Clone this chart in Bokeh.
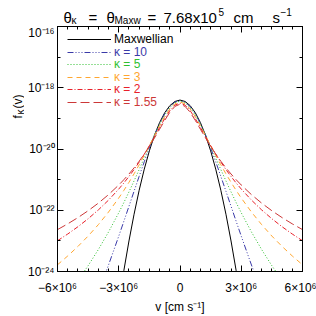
import numpy as np
from bokeh.plotting import figure
from bokeh.layouts import column, row
from bokeh.models import (Range1d, FixedTicker, CustomJSTickFormatter, Label,
                          Legend, LegendItem, LinearAxis, LogAxis)
from bokeh.embed import file_html
from bokeh.resources import INLINE

FONT = "Liberation Sans"

# ---------------- data ----------------
# velocity grid, positive half (cm/s); curves are symmetric in v
v_half = [0.0, 2.5e5, 5.0e5, 7.5e5, 1.0e6, 1.25e6, 1.5e6, 1.75e6, 2.0e6, 2.25e6,
          2.5e6, 2.75e6, 3.0e6, 3.5e6, 4.0e6, 4.5e6, 5.0e6, 5.5e6, 6.0e6]

# log10 of f(v) at the grid points above
log10_f_maxw = [-18.4018, -18.4478, -18.5859, -18.8160, -19.1381, -19.5523, -20.0585,
                -20.6568, -21.3471, -22.1294, -23.0038, -23.9702, -25.0286, -27.4217,
                -30.1828, -33.3121, -36.8096, -40.6752, -44.9090]
log10_f_k10 = [-18.4187, -18.4690, -18.6170, -18.8538, -19.1669, -19.5413, -19.9624,
               -20.4165, -20.8919, -21.3790, -21.8704, -22.3605, -22.8452, -23.7879,
               -24.6852, -25.5326, -26.3300, -27.0797, -27.7849]
log10_f_k5 = [-18.4368, -18.4914, -18.6488, -18.8916, -19.1976, -19.5446, -19.9142,
              -20.2925, -20.6702, -21.0409, -21.4011, -21.7486, -22.0826, -22.7095,
              -23.2841, -23.8114, -24.2968, -24.7454, -25.1616]
log10_f_k3 = [-18.4630, -18.5233, -18.6926, -18.9425, -19.2412, -19.5624, -19.8883,
              -20.2081, -20.5162, -20.8098, -21.0882, -21.3515, -21.6004, -22.0586,
              -22.4703, -22.8429, -23.1822, -23.4933, -23.7802]
log10_f_k2 = [-18.4999, -18.5671, -18.7503, -19.0079, -19.2998, -19.5989, -19.8904,
              -20.1674, -20.4275, -20.6706, -20.8975, -21.1095, -21.3078, -21.6688,
              -21.9897, -22.2777, -22.5385, -22.7766, -22.9955]
log10_f_k155 = [-18.5365, -18.6097, -18.8042, -19.0675, -19.3549, -19.6402, -19.9115,
                -20.1646, -20.3990, -20.6158, -20.8165, -21.0028, -21.1762, -21.4902,
                -21.7678, -22.0161, -22.2403, -22.4446, -22.6321]

series_labels = ["Maxwellian", "κ = 10", "κ = 5", "κ = 3", "κ = 2", "κ = 1.55"]
series_colors = ["#000000", "#3a3aa8", "#2fbf2f", "#ffa630", "#e8202a", "#cc3838"]
series_dashes = ["solid", "6 2 1 2 1 2 1 2", "1 2", "5 4", "5 2 1 2", "9 4"]

x_ticks = [-6e6, -3e6, 0.0, 3e6, 6e6]
x_tick_labels = ["−6×10⁶", "−3×10⁶", "0", "3×10⁶", "6×10⁶"]
y_ticks = [1e-24, 1e-22, 1e-20, 1e-18, 1e-16]
y_tick_labels = ["10⁻²⁴", "10⁻²²", "10⁻²⁰", "10⁻¹⁸", "10⁻¹⁶"]
y_minor_ticks = [1e-23, 1e-21, 1e-19, 1e-17]

# ---------------- build ----------------
vh = np.array(v_half)
v_full = np.concatenate([-vh[:0:-1], vh])


def full(logs):
    a = np.array(logs)
    return 10.0 ** np.concatenate([a[:0:-1], a])


series = [log10_f_maxw, log10_f_k10, log10_f_k5, log10_f_k3, log10_f_k2, log10_f_k155]

W, H = 316, 316
TITLE_H = 25
YLAB_W = 24
FL, FR, FT, FB = 56, 302, 26, 272   # wanted frame edges on the page

p = figure(width=W - YLAB_W, height=H - TITLE_H, output_backend="svg",
           toolbar_location=None,
           x_range=Range1d(-6e6, 6e6), y_range=Range1d(1e-24, 1e-16),
           y_axis_type="log",
           min_border_left=FL - YLAB_W, min_border_right=W - FR,
           min_border_top=FT - TITLE_H, min_border_bottom=H - FB)
p.xgrid.visible = False
p.ygrid.visible = False
p.outline_line_color = "black"
p.background_fill_color = "white"
p.border_fill_color = "white"

x_minor = list(np.arange(-6e6, 6.0001e6, 5e5))
xt = FixedTicker(ticks=x_ticks, minor_ticks=x_minor)
yt = FixedTicker(ticks=y_ticks, minor_ticks=y_minor_ticks)

xfmt = CustomJSTickFormatter(args=dict(tvals=x_ticks, tlabels=x_tick_labels), code="""
for (let i = 0; i < tvals.length; i++) { if (Math.abs(tick - tvals[i]) < 1) return tlabels[i]; }
return "";
""")
yfmt = CustomJSTickFormatter(args=dict(tvals=y_ticks, tlabels=y_tick_labels), code="""
for (let i = 0; i < tvals.length; i++) {
  if (Math.abs(Math.log10(tick) - Math.log10(tvals[i])) < 1e-6) return tlabels[i];
}
return "";
""")
empty = CustomJSTickFormatter(code="return '';")

p.add_layout(LinearAxis(), "above")
p.add_layout(LogAxis(), "right")

for ax in p.xaxis + p.yaxis:
    ax.axis_line_color = "black"
    ax.major_tick_line_color = "black"
    ax.minor_tick_line_color = "black"
    ax.major_tick_in = 6
    ax.major_tick_out = 0
    ax.minor_tick_in = 3
    ax.minor_tick_out = 0
    ax.major_label_text_font = FONT
    ax.major_label_text_font_size = "12px"
    ax.major_label_text_color = "black"

for ax in p.xaxis:
    ax.ticker = xt
for ax in p.yaxis:
    ax.ticker = yt

p.below[0].formatter = xfmt
p.below[0].major_label_standoff = 9
p.below[0].axis_label = "v [cm s⁻¹]"
p.below[0].axis_label_text_font = FONT
p.below[0].axis_label_text_font_size = "12px"
p.below[0].axis_label_text_font_style = "normal"
p.below[0].axis_label_text_color = "black"
p.below[0].axis_label_standoff = 2
p.left[0].formatter = yfmt
p.left[0].major_label_standoff = 3
p.above[0].formatter = empty
p.above[0].major_label_standoff = 0
p.above[0].major_label_text_font_size = "1px"
p.right[0].formatter = empty
p.right[0].major_label_standoff = 0
p.right[0].major_label_text_font_size = "1px"

renderers = []
for logs, col, dash in zip(series, series_colors, series_dashes):
    r = p.line(v_full, full(logs), line_color=col, line_width=1, line_dash=dash)
    renderers.append(r)

# legend: one legend per entry so each label gets its own colour
leg_centre_y = [41, 53.6, 66.2, 78.8, 91.4, 104.0]   # page y of entry centres
for r, lab, col, cy in zip(renderers, series_labels, series_colors, leg_centre_y):
    lg = Legend(items=[LegendItem(label=lab, renderers=[r])],
                location=(66 - FL, FB - cy - 6),
                padding=0, margin=0, spacing=0, glyph_width=44, glyph_height=12,
                label_height=12, label_standoff=3, border_line_color=None,
                background_fill_alpha=0, label_text_font=FONT,
                label_text_font_size="12px", label_text_color=col)
    p.add_layout(lg)


def text_fig(w, h):
    f = figure(width=w, height=h, output_backend="svg", toolbar_location=None,
               title=None, x_axis_location=None, y_axis_location=None,
               x_range=Range1d(0, 1), y_range=Range1d(0, 1),
               min_border=0, min_border_left=0, min_border_right=0,
               min_border_top=0, min_border_bottom=0)
    f.grid.visible = False
    f.outline_line_color = None
    f.background_fill_color = "white"
    f.border_fill_color = "white"
    return f


def add_text(f, fh, ox, oy, txt, px, py, size, angle=0.0):
    # px, py are page coordinates; (ox, oy) is the page position of figure f
    f.add_layout(Label(x=px - ox, y=(oy + fh) - py, x_units="screen", y_units="screen",
                       text=txt, text_font=FONT, text_font_size=f"{size}px",
                       text_color="black", angle=angle, text_align="left",
                       text_baseline="alphabetic"))


# title figure: θκ = θMaxw = 7.68x10^5 cm s^-1
tf = text_fig(W, TITLE_H)
for txt, px, py, sz in [("θ", 63, 17, 15), ("κ", 71, 20, 10), ("=", 88, 17, 15),
                        ("θ", 106, 17, 15), ("Maxw", 114, 20, 10), ("=", 147, 17, 15),
                        ("7.68x10", 163, 17, 15), ("5", 218, 11, 10), ("cm", 233, 17, 15),
                        ("s", 272, 17, 15), ("−1", 280, 11, 10)]:
    add_text(tf, TITLE_H, 0, 0, txt, px, py, sz)

# y-label figure: fκ(v), rotated
yf = text_fig(YLAB_W, H - TITLE_H)
for txt, px, py, sz in [("f", 17, 163, 12), ("κ", 20, 159, 10), ("(v)", 17, 153, 12)]:
    add_text(yf, H - TITLE_H, 0, TITLE_H, txt, px, py, sz, angle=np.pi / 2)

layout = column(tf, row(yf, p, spacing=0), spacing=0)

open("out.html", "w").write(file_html(layout, INLINE))
